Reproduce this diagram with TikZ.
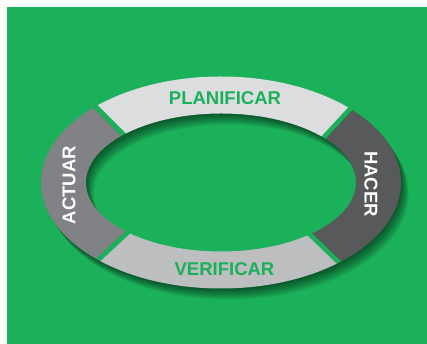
\documentclass[tikz,border=0pt]{standalone}
\usepackage{fontspec}
\setmainfont{Liberation Sans}
\usepackage{tikz}
\usetikzlibrary{calc}
\definecolor{fondo}{RGB}{27,176,90}
\definecolor{grisclaro}{RGB}{220,221,223}
\definecolor{grisoscuro}{RGB}{88,89,91}
\definecolor{grismedio}{RGB}{128,130,133}
\definecolor{grisplata}{RGB}{188,190,192}
\tikzset{
         etiqueta/.style={font={\fontsize{18.5}{20}\selectfont\bfseries},inner sep=0pt},
         tramo/.style={even odd rule}
        }
\def\ciclo{(221,161.5) ellipse (180 and 106) (221,161.5) ellipse (135 and 69)}

\begin{document}
\begin{tikzpicture}[x=1pt,y=1pt]
\useasboundingbox (0,0) rectangle (427,344);
\fill[fondo] (7,0) rectangle (427,337); % fondo
\coordinate (c) at (221,161.5); % centro
\coordinate (noi) at (150,183); \coordinate (noe) at (50,283); % corte NO
\coordinate (nei) at (300,181); \coordinate (nee) at (400,289); % corte NE
\coordinate (sei) at (300,119); \coordinate (see) at (400,23); % corte SE
\coordinate (soi) at (150,132.3); \coordinate (soe) at (40,30.1); % corte SO
\foreach \i in {1,...,14}
  \fill[black,opacity=0.045,tramo,shift={(\i*0.55,-\i*0.8)}] \ciclo; % sombra
\begin{scope}[even odd rule] % huecos
\clip \ciclo;
\draw[fondo,line width=5pt] (noi) -- (noe) (nei) -- (nee) (sei) -- (see) (soi) -- (soe);
\end{scope}
\begin{scope} % planificar
\clip (c) -- ($(noi)+(1.8,1.8)$) -- ($(noe)+(1.8,1.8)$) -- (-50,450) -- (480,450)
      -- ($(nee)+(-1.8,1.7)$) -- ($(nei)+(-1.8,1.7)$) -- cycle;
\fill[grisclaro,tramo] \ciclo;
\end{scope}
\begin{scope} % hacer
\clip (c) -- ($(nei)+(1.8,-1.7)$) -- ($(nee)+(1.8,-1.7)$) -- (480,450) -- (480,-50)
      -- ($(see)+(1.7,1.8)$) -- ($(sei)+(1.7,1.8)$) -- cycle;
\fill[grisoscuro,tramo] \ciclo;
\end{scope}
\begin{scope} % verificar
\clip (c) -- ($(sei)+(-1.7,-1.8)$) -- ($(see)+(-1.7,-1.8)$) -- (480,-50) -- (-50,-50)
      -- ($(soe)+(1.7,-1.8)$) -- ($(soi)+(1.7,-1.8)$) -- cycle;
\fill[grisplata,tramo] \ciclo;
\end{scope}
\begin{scope} % actuar
\clip (c) -- ($(soi)+(-1.7,1.8)$) -- ($(soe)+(-1.7,1.8)$) -- (-50,-50) -- (-50,450)
      -- ($(noe)+(-1.8,-1.8)$) -- ($(noi)+(-1.8,-1.8)$) -- cycle;
\fill[grismedio,tramo] \ciclo;
\end{scope}
\node[etiqueta,text=fondo] (planificar) at (225,246) {PLANIFICAR};
\node[etiqueta,text=fondo] (verificar) at (224.5,75) {VERIFICAR};
\node[etiqueta,text=white,rotate=90] (actuar) at (69,159) {ACTUAR};
\node[etiqueta,text=white,rotate=-90] (hacer) at (371,160) {HACER};
\end{tikzpicture}
\end{document}
